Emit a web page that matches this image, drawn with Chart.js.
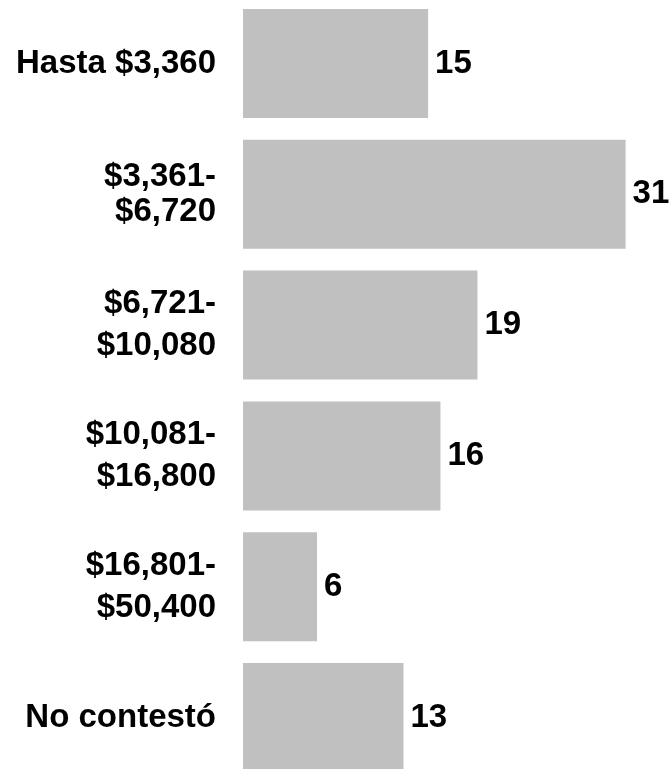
<!DOCTYPE html>
<html>
<head>
<meta charset="utf-8">
<script src="https://cdn.jsdelivr.net/npm/chart.js@4"></script>
<style>
    html, body { margin: 0; padding: 0; background: #ffffff; overflow: hidden; }
    #wrap { position: relative; width: 670px; height: 769px; overflow: hidden; }
    #incomeChart { position: absolute; left: 0; top: -2px; }
</style>
</head>
<body>
<div id="wrap">
    <canvas id="incomeChart" width="670" height="785"></canvas>
</div>
<script>
// Rangos de ingreso (etiquetas del eje)
const categories = [
    'Hasta $3,360',
    ['$3,361-', '$6,720'],
    ['$6,721-', '$10,080'],
    ['$10,081-', '$16,800'],
    ['$16,801-', '$50,400'],
    'No contestó'
];

// Valores de cada barra
const values = [15, 31, 19, 16, 6, 13];

const barColor = '#c0c0c0';
const textFont = "'Liberation Sans', Arial, Helvetica, sans-serif";

// Etiquetas de valor al final de cada barra
const valueLabels = {
    id: 'valueLabels',
    afterDatasetsDraw(chart) {
        const ctx = chart.ctx;
        const meta = chart.getDatasetMeta(0);
        ctx.save();
        ctx.font = 'bold 33px ' + textFont;
        ctx.fillStyle = '#000000';
        ctx.textAlign = 'left';
        ctx.textBaseline = 'middle';
        meta.data.forEach((bar, i) => {
            ctx.fillText(String(values[i]), bar.x + 7, bar.y);
        });
        ctx.restore();
    }
};

const ctx = document.getElementById('incomeChart').getContext('2d');

new Chart(ctx, {
    type: 'bar',
    data: {
        labels: categories,
        datasets: [{
            data: values,
            backgroundColor: barColor,
            borderWidth: 0,
            categoryPercentage: 1,
            barPercentage: 0.833
        }]
    },
    options: {
        indexAxis: 'y',
        responsive: false,
        devicePixelRatio: 1,
        animation: false,
        layout: { padding: 0 },
        plugins: {
            legend: { display: false },
            tooltip: { enabled: false }
        },
        scales: {
            x: {
                display: false,
                min: 0,
                max: 34.6
            },
            y: {
                grid: { display: false, drawTicks: false },
                border: { display: false },
                ticks: {
                    color: '#000000',
                    padding: 27,
                    font: (c) => ({
                        family: textFont,
                        size: 33,
                        weight: 'bold',
                        lineHeight: c.index === 1 ? 1.05 : 1.26
                    })
                },
                afterFit(scale) {
                    // ancho fijo del eje y sin margen extra arriba/abajo
                    scale.width = 243;
                    scale.paddingTop = 0;
                    scale.paddingBottom = 0;
                }
            }
        }
    },
    plugins: [valueLabels]
});
</script>
</body>
</html>
